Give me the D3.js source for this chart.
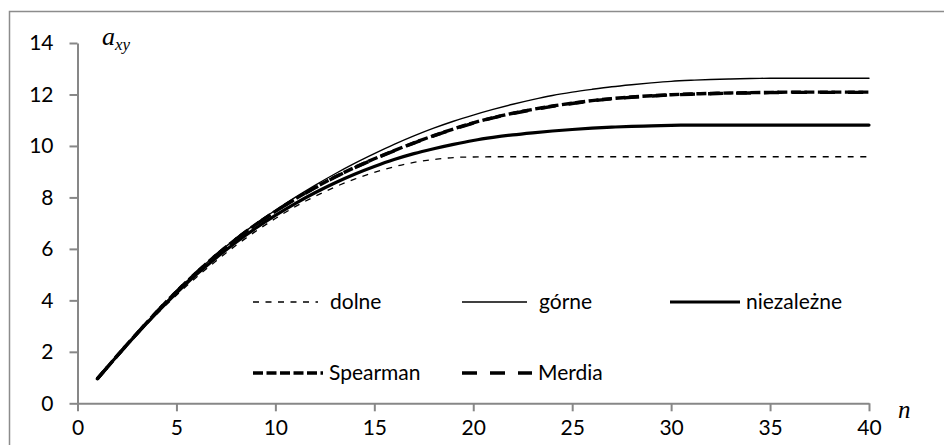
<!DOCTYPE html>
<html>
<head>
<meta charset="utf-8">
<script src="https://cdn.jsdelivr.net/npm/d3@7"></script>
<style>
  body { margin: 0; background: #fff; }
  svg { display: block; }
</style>
</head>
<body>
<svg id="chart" width="944" height="445"></svg>
<script>
// values
var ns = [1,2,3,4,5,6,7,8,9,10,11,12,13,14,15,16,17,18,19,20,
          21,22,23,24,25,26,27,28,29,30,31,32,33,34,35,36,37,38,39,40];

var dolne = [0.95,1.83,2.67,3.46,4.20,4.89,5.53,6.13,6.68,7.18,7.64,8.04,8.40,8.71,8.97,9.19,9.36,9.47,9.55,9.57,
             9.58,9.58,9.58,9.58,9.58,9.58,9.58,9.58,9.58,9.58,9.58,9.58,9.58,9.58,9.58,9.58,9.58,9.58,9.58,9.58];
var gorne = [0.95,1.84,2.71,3.55,4.35,5.09,5.77,6.40,6.97,7.50,8.00,8.47,8.91,9.32,9.70,10.06,10.39,10.69,10.96,11.20,
             11.42,11.62,11.80,11.96,12.09,12.20,12.30,12.38,12.45,12.51,12.55,12.58,12.60,12.62,12.63,12.63,12.63,12.63,12.63,12.63];
var niezalezne = [0.95,1.84,2.70,3.51,4.28,5.00,5.65,6.25,6.80,7.30,7.76,8.18,8.56,8.90,9.20,9.47,9.70,9.89,10.06,10.21,
             10.33,10.43,10.51,10.58,10.64,10.69,10.73,10.76,10.78,10.80,10.81,10.81,10.81,10.81,10.81,10.81,10.81,10.81,10.81,10.81];
var spearman = [0.95,1.84,2.71,3.55,4.34,5.07,5.75,6.37,6.94,7.46,7.94,8.38,8.79,9.16,9.50,9.82,10.12,10.40,10.66,10.90,
             11.10,11.27,11.42,11.55,11.66,11.76,11.84,11.90,11.95,11.99,12.02,12.04,12.06,12.07,12.08,12.09,12.09,12.09,12.09,12.09];
var merdia = [0.95,1.84,2.71,3.55,4.34,5.07,5.75,6.37,6.93,7.45,7.93,8.37,8.78,9.15,9.49,9.81,10.11,10.39,10.65,10.89,
             11.09,11.26,11.41,11.54,11.65,11.75,11.83,11.89,11.94,11.98,12.01,12.03,12.05,12.06,12.07,12.08,12.08,12.08,12.08,12.08];

var xTicks = [0,5,10,15,20,25,30,35,40];
var yTicks = [0,2,4,6,8,10,12,14];

var series = [
  { name: "dolne",      values: dolne,      width: 1.3, dash: "6,6.5" },
  { name: "górne",      values: gorne,      width: 1.4, dash: null },
  { name: "niezależne", values: niezalezne, width: 3.2, dash: null },
  { name: "Spearman",   values: spearman,   width: 3.4, dash: "10,3.5" },
  { name: "Merdia",     values: merdia,     width: 3.4, dash: "15,13" }
];

var svg = d3.select("#chart");
var font = "Lato, 'Open Sans', sans-serif";

// outer frame (runs off the right and bottom edges)
svg.append("rect")
    .attr("x", 9.5).attr("y", 11.5)
    .attr("width", 1000).attr("height", 500)
    .attr("fill", "none")
    .attr("stroke", "#8c8c8c")
    .attr("stroke-width", 1.5);

var x = d3.scaleLinear().domain([0, 40]).range([77.5, 869]);
var y = d3.scaleLinear().domain([0, 14]).range([403.3, 43]);

var axisColor = "#878787";

// y axis
var gy = svg.append("g")
    .attr("transform", "translate(" + x(0) + ",0)")
    .call(d3.axisLeft(y).tickValues(yTicks).tickSize(8).tickSizeOuter(0).tickPadding(16));
// x axis
var gx = svg.append("g")
    .attr("transform", "translate(0," + y(0) + ")")
    .call(d3.axisBottom(x).tickValues(xTicks).tickSize(8).tickSizeOuter(0).tickPadding(9));

svg.selectAll(".domain").attr("stroke", axisColor).attr("stroke-width", 2);
svg.selectAll(".tick line").attr("stroke", axisColor).attr("stroke-width", 2);
svg.selectAll(".tick text")
    .attr("fill", "#000")
    .attr("font-family", font)
    .attr("font-size", 21);

// curves
var line = d3.line()
    .x(function (d) { return x(d[0]); })
    .y(function (d) { return y(d[1]); })
    .curve(d3.curveCatmullRom);

series.forEach(function (s) {
  svg.append("path")
      .datum(ns.map(function (n, i) { return [n, s.values[i]]; }))
      .attr("fill", "none")
      .attr("stroke", "#000")
      .attr("stroke-width", s.width)
      .attr("stroke-linejoin", "round")
      .attr("stroke-linecap", s.dash ? "butt" : "round")
      .attr("stroke-dasharray", s.dash)
      .attr("d", line);
});

// axis titles
var ay = svg.append("text")
    .attr("x", 102).attr("y", 45)
    .attr("font-family", "'Liberation Serif', 'DejaVu Serif', serif")
    .attr("font-style", "italic")
    .attr("font-size", 26)
    .text("a");
ay.append("tspan")
    .attr("font-size", 17)
    .attr("dy", 5)
    .text("xy");

svg.append("text")
    .attr("x", 898).attr("y", 418)
    .attr("font-family", "'Liberation Serif', 'DejaVu Serif', serif")
    .attr("font-style", "italic")
    .attr("font-size", 25)
    .text("n");

// legend
var legendPos = [[253, 302], [462, 302], [670, 302], [253, 373], [462, 373]];
var legend = svg.append("g")
    .selectAll("g")
    .data(series)
    .enter().append("g")
    .attr("transform", function (d, i) { return "translate(" + legendPos[i][0] + "," + legendPos[i][1] + ")"; });

legend.append("line")
    .attr("x1", 0)
    .attr("x2", function (d) { return d.width > 2 ? 70 : 65; })
    .attr("stroke", "#000")
    .attr("stroke-width", function (d) { return d.width; })
    .attr("stroke-dasharray", function (d) { return d.dash; });

legend.append("text")
    .attr("x", function (d) { return d.width > 2 ? 76 : 77; })
    .attr("dy", "0.35em")
    .attr("font-family", font)
    .attr("font-size", 21)
    .attr("fill", "#000")
    .text(function (d) { return d.name; });
</script>
</body>
</html>
